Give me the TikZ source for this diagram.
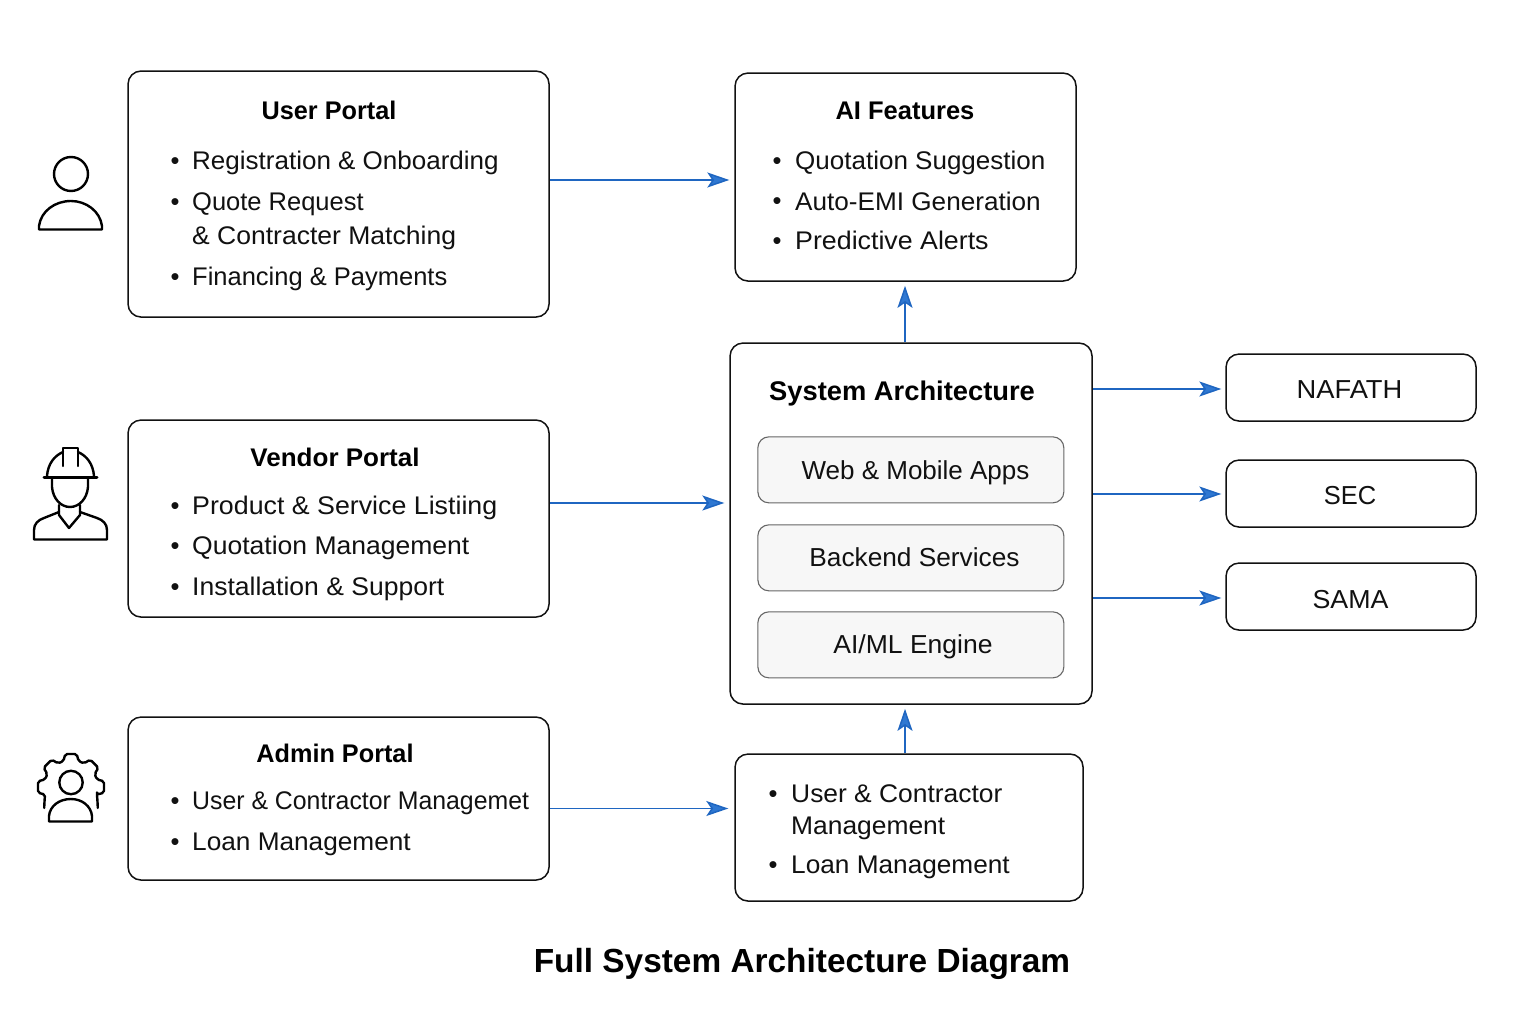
\documentclass[tikz,border=0pt]{standalone}
\usepackage{fontspec}
\setmainfont{Liberation Sans}
\usetikzlibrary{arrows.meta}
\definecolor{arrowblue}{HTML}{1F66C1}
\definecolor{headblue}{HTML}{2F78D2}
\definecolor{inkc}{HTML}{111111}
\tikzset{
  box/.style={draw=inkc,line width=1.5pt,rounded corners=13pt,fill=white,inner sep=0pt,anchor=north west,xshift=-.7pt,yshift=.7pt},
  inner box/.style={draw=black!60,line width=1.1pt,rounded corners=11pt,fill=black!3,inner sep=0pt,anchor=north west,xshift=-.7pt,yshift=.7pt},
  body/.style={font=\fontsize{25.5}{30}\selectfont,inner sep=0pt,anchor=base west,text=inkc},
  head/.style={font=\fontsize{25.5}{30}\selectfont\bfseries,inner sep=0pt,anchor=base,text=black},
  label/.style={font=\fontsize{26}{30}\selectfont,inner sep=0pt,anchor=base,text=inkc},
  flow/.style={draw=arrowblue,line width=1.5pt,-{Stealth[length=22pt,width=15pt,inset=5pt,fill=headblue]}},
  icon/.style={draw=black,line width=2.4pt,line join=round,line cap=round},
}
\newcommand{\boxat}[6][box]{\node[#1,minimum width=#5pt-#3pt,minimum height=#6pt-#4pt] (#2) at (#3,#4) {};}
\begin{document}
\begin{tikzpicture}[x=1pt,y=-1pt]
\useasboundingbox (0,0) rectangle (1536,1024);
% boxes
\boxat{user}{128}{71}{549}{317}
\boxat{ai}{735}{73}{1076}{281}
\boxat{sys}{730}{343}{1092}{704}
\boxat{vendor}{128}{420}{549}{617}
\boxat{admin}{128}{717}{549}{880}
\boxat{mgmt}{735}{754}{1083}{901}
\boxat{nafath}{1226}{354}{1476}{421}
\boxat{sec}{1226}{460}{1476}{527}
\boxat{sama}{1226}{563}{1476}{630}
\boxat[inner box]{web}{758}{437}{1064}{503}
\boxat[inner box]{backend}{758}{525}{1064}{591}
\boxat[inner box]{engine}{758}{612}{1064}{678}
% headings
\node[head] (userT) at (329,119.5) {\scalebox{.99}[1]{User Portal}};
\node[head] (aiT) at (905,119.5) {AI Features};
\node[head] (vendorT) at (335,466) {\scalebox{1.02}[1]{Vendor Portal}};
\node[head] (adminT) at (335,762.5) {\scalebox{.99}[1]{Admin Portal}};
\node[head,anchor=base west,font=\fontsize{27}{30}\selectfont\bfseries] (sysT) at (769,400.5) {\scalebox{1.012}[1]{System Architecture}};
\node[head,font=\fontsize{33.4}{38}\selectfont\bfseries] (title) at (802,972) {Full System Architecture Diagram};
% lists
\foreach \n/\x/\y/\r/\t in {
 u1/192/170/1.02/{Registration \& Onboarding},
 u2/192/211/1/{Quote Request},
 u3/192/245/1.04/{\& Contracter Matching},
 u4/192/286/1/{Financing \& Payments},
 a1/795/170/1.02/{Quotation Suggestion},
 a2/795/210.5/1.025/{Auto-EMI Generation},
 a3/795/250/1.05/{Predictive Alerts},
 v1/192/514/1.05/{Product \& Service Listiing},
 v2/192/554/1.04/{Quotation Management},
 v3/192/595/1.04/{Installation \& Support},
 d1/192/809/.974/{User \& Contractor Managemet},
 d2/192/850/1.028/{Loan Management},
 m1/791/802/1.035/{User \& Contractor},
 m2/791/834/1.035/{Management},
 m3/791/873/1.028/{Loan Management}}
 {\node[body] (\n) at (\x,\y) {\scalebox{\r}[1]{\t}};}
\foreach \n/\x/\y in {b1/175/170,b2/175/211,b3/175/286,b4/777/170,b5/777/210,b6/777/250,b7/175/514,b8/175/554,b9/175/595,b10/175/809,b11/175/850,b12/773/802,b13/773/873}
 {\node[body,anchor=base] (\n) at (\x,\y) {•};}
% labels
\node[label] (nafathT) at (1349.5,398) {\scalebox{1.05}[1]{NAFATH}};
\node[label] (secT) at (1350,504) {\scalebox{.98}[1]{SEC}};
\node[label] (samaT) at (1350.5,608) {\scalebox{1.03}[1]{SAMA}};
\node[label] (webT) at (915.5,479) {Web \& Mobile Apps};
\node[label] (backT) at (914.5,566) {\scalebox{1.01}[1]{Backend Services}};
\node[label] (engT) at (913,653) {\scalebox{1.02}[1]{AI/ML Engine}};
% connectors
\coordinate (r1) at (0,180); \coordinate (r2) at (0,503); \coordinate (r3) at (0,808.5);
\coordinate (r4) at (0,389); \coordinate (r5) at (0,494); \coordinate (r6) at (0,598);
\coordinate (c1) at (905,0);
\draw[flow,shorten >=5pt] (user.east |- r1) -- (ai.west |- r1);
\draw[flow,shorten >=5pt] (vendor.east |- r2) -- (sys.west |- r2);
\draw[flow,shorten >=6pt] (admin.east |- r3) -- (mgmt.west |- r3);
\draw[flow,shorten >=4pt] (c1 |- sys.north) -- (c1 |- ai.south);
\draw[flow,shorten >=4pt] (c1 |- mgmt.north) -- (c1 |- sys.south);
\draw[flow,shorten >=4pt] (sys.east |- r4) -- (nafath.west |- r4);
\draw[flow,shorten >=4pt] (sys.east |- r5) -- (sec.west |- r5);
\draw[flow,shorten >=4pt] (sys.east |- r6) -- (sama.west |- r6);
% user icon
\draw[icon] (71,174) circle (17);
\draw[icon] (39,229.5) -- (102,229.5) -- (102,226) .. controls (100,211) and (86,201) .. (71,201) .. controls (55,201) and (41,211) .. (39,226) -- cycle;
% worker icon
\draw[icon,line width=3pt] (44,477) -- (97,477);
\draw[icon] (47,476) .. controls (48,464) and (54,456) .. (63,452);
\draw[icon] (94,476) .. controls (93,464) and (87,456) .. (78,452);
\draw[icon] (63,466) -- (63,448) -- (78,448) -- (78,466);
\draw[icon] (52,478) -- (52,487) .. controls (53,499) and (61,507) .. (70,507) .. controls (79,507) and (87,499) .. (88,487) -- (88,478);
\draw[icon] (59,505) -- (59,515) -- (69,528) -- (80,515) -- (80,505);
\draw[icon] (59,512) -- (44,518) .. controls (38,520) and (34,524) .. (34,530) -- (34,539.5) -- (107,539.5) -- (107,530) .. controls (107,524) and (103,520) .. (97,518) -- (80,512);
% admin icon
\draw[icon] (71,782.5) circle (11.7);
\draw[icon] (49,821.5) -- (92,821.5) -- (92,816) .. controls (91,806) and (82,799) .. (71,799) .. controls (59,799) and (50,806) .. (49,816) -- cycle;
\begin{scope}[shift={(71,787)}]
\draw[icon,rounded corners=2pt] (-38:34pt) -- (-28:30pt) -- (-16:27pt)
  \foreach \a in {0,45,90,135,180} { -- (\a-16:27pt) -- (\a-10:33.5pt) -- (\a+10:33.5pt) -- (\a+16:27pt) }
  -- (208:30pt) -- (218:34pt);
\end{scope}
\end{tikzpicture}
\end{document}
